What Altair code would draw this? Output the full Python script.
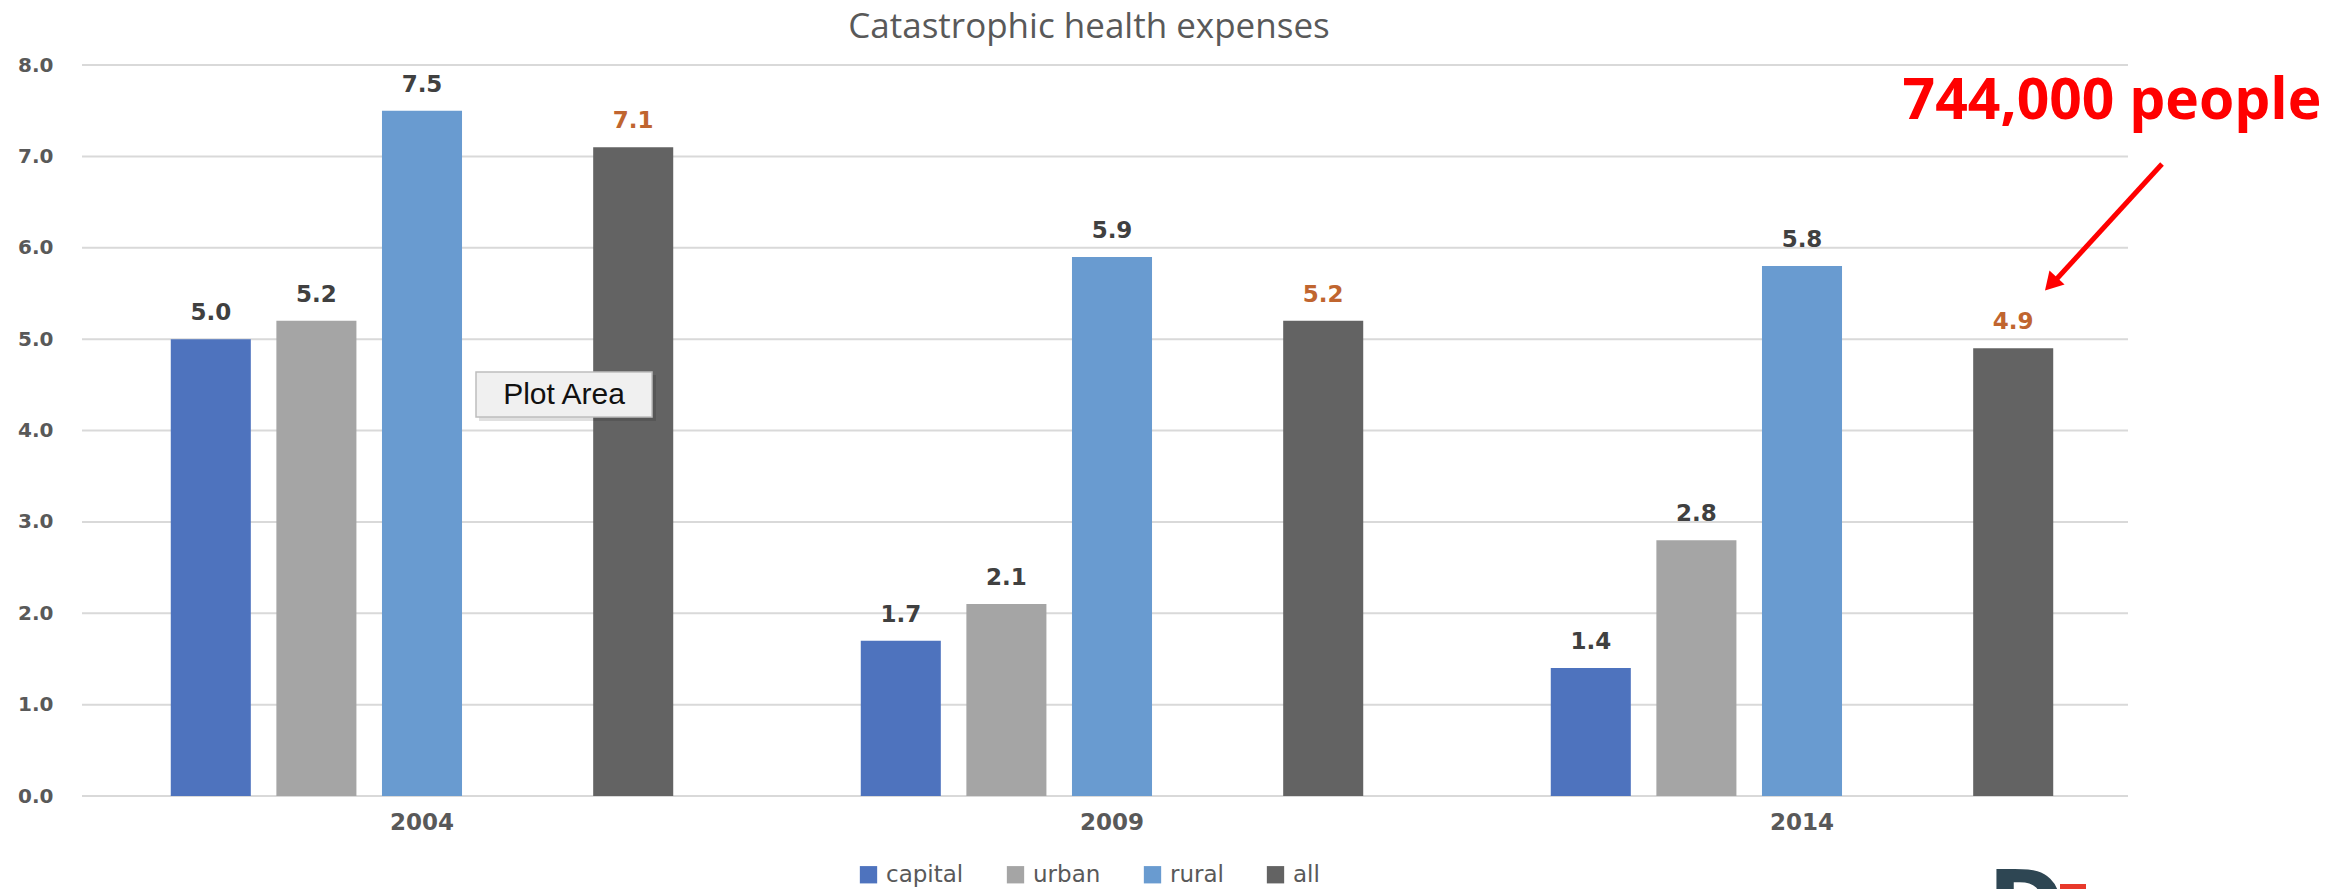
import altair as alt
import pandas as pd

years = ["2004", "2009", "2014"]
series = ["capital", "urban", "rural", "all"]
capital = [5.0, 1.7, 1.4]
urban = [5.2, 2.1, 2.8]
rural = [7.5, 5.9, 5.8]
all_people = [7.1, 5.2, 4.9]
colors = ["#4E73BE", "#A5A5A5", "#699BD0", "#636363"]
y_ticks = [0, 1, 2, 3, 4, 5, 6, 7, 8]
slots = ["capital", "urban", "rural", "gap", "all"]

rows = []
for name, vals in zip(series, [capital, urban, rural, all_people]):
    for yr, v in zip(years, vals):
        rows.append({"year": yr, "series": name, "value": v})
df = pd.DataFrame(rows)

W, H = 2046, 731

yscale = alt.Scale(domain=[0, 8])
yaxis = alt.Axis(title=None, values=y_ticks, format=".1f", ticks=False, domain=False,
                 grid=False, labelFont="DejaVu Sans", labelFontWeight="bold",
                 labelFontSize=20, labelColor="#595959", labelPadding=29)

grid = alt.Chart(pd.DataFrame({"tick": y_ticks})).mark_rule(color="#D9D9D9", strokeWidth=2).encode(
    y=alt.Y("tick:Q", scale=yscale, axis=yaxis),
    x=alt.value(0), x2=alt.value(W),
)

base = alt.Chart(df).encode(
    x=alt.X("year:N", sort=years,
            scale=alt.Scale(paddingInner=0, paddingOuter=0, range=[-5, 2065]),
            axis=alt.Axis(title=None, labelAngle=0, ticks=False, domain=False, grid=False,
                          labelFont="DejaVu Sans", labelFontWeight="bold",
                          labelFontSize=23, labelColor="#595959", labelPadding=15)),
    xOffset=alt.XOffset("series:N",
                        scale=alt.Scale(domain=slots, paddingInner=0.242, paddingOuter=0.888)),
    y=alt.Y("value:Q", scale=yscale, axis=yaxis),
)

bars = base.mark_bar().encode(
    color=alt.Color("series:N", scale=alt.Scale(domain=series, range=colors),
                    legend=alt.Legend(title=None, orient="none", direction="horizontal",
                                      legendX=775, legendY=798,
                                      symbolType="square", symbolSize=300,
                                      symbolStrokeWidth=0,
                                      labelFont="DejaVu Sans", labelFontSize=23,
                                      labelColor="#595959", columnPadding=40,
                                      labelOffset=6))
)

labels = base.mark_text(baseline="bottom", dy=-14, font="DejaVu Sans",
                        fontWeight="bold", fontSize=23).encode(
    text=alt.Text("value:Q", format=".1f"),
    color=alt.condition(alt.datum.series == "all", alt.value("#C0652F"), alt.value("#404040")),
)

note_df = pd.DataFrame({"t": ["744,000 people"]})
note = alt.Chart(note_df).mark_text(
    font="Open Sans", fontWeight="bold", fontSize=57, color="#FF0000", align="center", baseline="middle"
).encode(x=alt.value(2030), y=alt.value(37), text="t:N")

arrow_line = alt.Chart(note_df).mark_rule(color="#FF0000", strokeWidth=5).encode(
    x=alt.value(2080), y=alt.value(99), x2=alt.value(1971), y2=alt.value(218))
arrow_head = alt.Chart(note_df).mark_point(
    shape="triangle-up", filled=True, size=420, angle=222.6, color="#FF0000", opacity=1
).encode(x=alt.value(1969), y=alt.value(219))

box_df = pd.DataFrame({"t": ["Plot Area"]})
shadow = alt.Chart(box_df).mark_rect(color="#000000", opacity=0.12).encode(
    x=alt.value(397), x2=alt.value(574), y=alt.value(310), y2=alt.value(356))
box = alt.Chart(box_df).mark_rect(fill="#F0F0F0", stroke="#BDBDBD", strokeWidth=1.5).encode(
    x=alt.value(394), x2=alt.value(570), y=alt.value(307), y2=alt.value(352))
box_text = alt.Chart(box_df).mark_text(
    font="Liberation Sans", fontSize=30, color="#111111", align="center", baseline="middle"
).encode(x=alt.value(482), y=alt.value(330), text="t:N")

logo = alt.Chart(box_df).mark_text(
    text="D", font="DejaVu Sans", fontWeight="bold", fontSize=92, color="#2E4653",
    align="left", baseline="alphabetic").encode(x=alt.value(1906), y=alt.value(872))
logo_red = alt.Chart(box_df).mark_rect(color="#E8392B").encode(
    x=alt.value(1978), x2=alt.value(2004), y=alt.value(819), y2=alt.value(830))

chart = alt.layer(grid, bars, labels, shadow, box, box_text, note, arrow_line, arrow_head, logo, logo_red).properties(
    width=W, height=H,
    background="white",
    title=alt.TitleParams("Catastrophic health expenses", font="Open Sans", fontSize=35,
                          fontWeight="normal", color="#595959", offset=10, dx=-16),
    autosize=alt.AutoSizeParams(type="none"),
    padding={"left": 82, "top": 65, "right": 205, "bottom": 93},
).configure_view(stroke=None)

chart.save("out.html", embed_options={"renderer": "svg", "actions": False})
